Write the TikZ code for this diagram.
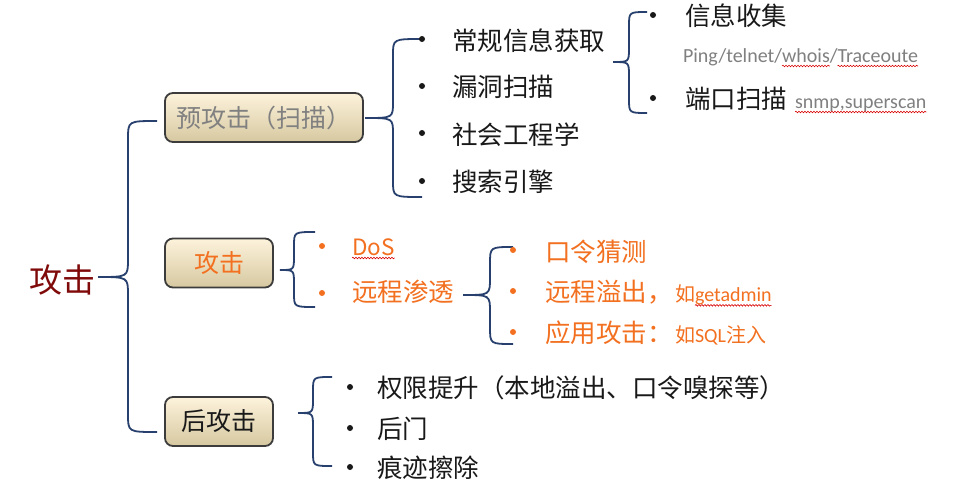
\documentclass[tikz,border=0pt]{standalone}
\usepackage{fontspec}
\setmainfont{Carlito}
\newfontfamily\cjk{Noto Sans CJK SC}
\usetikzlibrary{calc,decorations.pathmorphing}

\definecolor{bracecol}{RGB}{40,64,110}
\definecolor{rootred}{RGB}{128,10,10}
\definecolor{orangec}{RGB}{242,112,32}
\definecolor{grayc}{RGB}{128,128,128}
\definecolor{inkblack}{RGB}{25,25,25}
\definecolor{boxline}{RGB}{60,60,60}
\definecolor{boxtop}{RGB}{253,243,220}
\definecolor{boxmid}{RGB}{244,233,206}
\definecolor{boxbot}{RGB}{214,200,160}

\newcommand\setfs[1]{\fontsize{#1}{#1}\selectfont}

% curly brace: #1 tip, #2 upper end, #3 lower end, #4 spine x, #5 bend depth
\newcommand\bracelink[5]{%
  \draw[brace] (#2) .. controls (#2 -| #4) .. ($(#2 -| #4)+(0,#5)$)
    -- ($(#1 -| #4)-(0,#5)$) .. controls (#1 -| #4) .. (#1)
    .. controls (#1 -| #4) .. ($(#1 -| #4)+(0,#5)$)
    -- ($(#3 -| #4)-(0,#5)$) .. controls (#3 -| #4) .. (#3);}

\begin{document}
\begin{tikzpicture}[x=1pt,y=-1pt,
  txt/.style={inner sep=0pt,outer sep=0pt},
  item/.style={txt,anchor=west,font=\cjk\setfs{25.5},text=inkblack},
  oitem/.style={item,text=orangec},
  small/.style={txt,anchor=base west,font=\setfs{20},text=grayc},
  osmall/.style={small,text=orangec},
  topic/.style={draw=boxline,line width=1.8pt,rounded corners=8pt,
    top color=boxtop,middle color=boxmid,bottom color=boxbot,
    minimum height=49pt,inner sep=0pt,font=\cjk\setfs{25}},
  brace/.style={draw=bracecol,line width=1.8pt},
  squig/.style={draw=red!85!black,line width=0.6pt,decorate,
    decoration={snake,amplitude=0.8pt,segment length=3pt}},
  dotb/.style={fill=inkblack},
  doto/.style={fill=orangec}]
\useasboundingbox[fill=white] (0,0) rectangle (977,490);

% root
\node[txt,anchor=west,font=\cjk\setfs{33},text=rootred] (root) at (29,280) {攻击};

% three phases
\node[topic,minimum width=198pt,text=grayc] (pre) at (264,117.5) {预攻击（扫描）};
\node[topic,minimum width=108pt,text=orangec] (atk) at (219,263) {攻击};
\node[topic,minimum width=108pt,text=inkblack] (post) at (219,421.5) {后攻击};

% main brace
\coordinate (m-tip) at (98,277);
\coordinate (m-top) at (157,121);
\coordinate (m-bot) at (157,432);
\coordinate (m-x) at (128,0);
\bracelink{m-tip}{m-top}{m-bot}{m-x}{18}

% ---------- pre-attack ----------
\coordinate (p-tip) at (365,118);
\coordinate (p-top) at (422,39);
\coordinate (p-bot) at (422,197);
\coordinate (p-x) at (393,0);
\bracelink{p-tip}{p-top}{p-bot}{p-x}{16}

\fill[dotb] (422,39) circle (3pt);
\fill[dotb] (422,86) circle (3pt);
\fill[dotb] (422,133) circle (3pt);
\fill[dotb] (422,181) circle (3pt);
\node[item] (p1) at (452,41) {常规信息获取};
\node[item] (p2) at (452,86.5) {漏洞扫描};
\node[item] (p3) at (452,135) {社会工程学};
\node[item] (p4) at (452,182) {搜索引擎};

\coordinate (g-tip) at (613,62);
\coordinate (g-top) at (647,12);
\coordinate (g-bot) at (647,113);
\coordinate (g-x) at (629,0);
\bracelink{g-tip}{g-top}{g-bot}{g-x}{14}

\fill[dotb] (653,15) circle (3pt);
\fill[dotb] (653,98) circle (3pt);
\node[item] (g1) at (685,16) {信息收集};
\node[small] (ping1) at (683,62) {Ping/telnet/};
\node[small] (ping2) at (ping1.base east) {whois};
\node[small] (ping3) at (ping2.base east) {/};
\node[small] (ping4) at (ping3.base east) {Traceoute};
\node[item] (g2) at (685,99) {端口扫描};
\node[small] (scan) at (795,108) {snmp,superscan};
\draw[squig] ([yshift=-4pt]ping2.base west) -- ([yshift=-4pt]ping2.base east);
\draw[squig] ([yshift=-4pt]ping4.base west) -- ([yshift=-4pt]ping4.base east);
\draw[squig] ([yshift=-4pt]scan.base west) -- ([yshift=-4pt]scan.base east);

% ---------- attack ----------
\coordinate (a-tip) at (280,270);
\coordinate (a-top) at (315,232);
\coordinate (a-bot) at (315,307);
\coordinate (a-x) at (294,0);
\bracelink{a-tip}{a-top}{a-bot}{a-x}{14}

\fill[doto] (322,246) circle (3pt);
\fill[doto] (322,293) circle (3pt);
\node[txt,anchor=base west,font=\cjk\setfs{22.5},text=orangec] (dos) at (352,255) {DoS};
\draw[squig] ([yshift=-3pt]dos.base west) -- ([yshift=-3pt]dos.base east);
\node[oitem] (rp) at (352,291.5) {远程渗透};

\coordinate (r-tip) at (463,295);
\coordinate (r-top) at (513,247);
\coordinate (r-bot) at (513,344);
\coordinate (r-x) at (490,0);
\bracelink{r-tip}{r-top}{r-bot}{r-x}{17}

\fill[doto] (513,250) circle (3pt);
\fill[doto] (513,291) circle (3pt);
\fill[doto] (513,332) circle (3pt);
\node[oitem] (r1) at (545,252) {口令猜测};
\node[oitem] (r2) at (545,292) {远程溢出，};
\node[oitem] (r3) at (545,333) {应用攻击：};
\coordinate (sx) at (675,0);
\node[osmall] (r2a) at (r2.base -| sx) {{\cjk 如}};
\node[osmall] (r2b) at (r2a.base east) {getadmin};
\draw[squig] ([yshift=-4pt]r2b.base west) -- ([yshift=-4pt]r2b.base east);
\node[osmall] (r3a) at (r3.base -| sx) {{\cjk 如}SQL{\cjk 注入}};

% ---------- post-attack ----------
\coordinate (q-tip) at (298,413);
\coordinate (q-top) at (332,377);
\coordinate (q-bot) at (332,466);
\coordinate (q-x) at (313,0);
\bracelink{q-tip}{q-top}{q-bot}{q-x}{14}

\fill[dotb] (350,387) circle (3pt);
\fill[dotb] (350,428) circle (3pt);
\fill[dotb] (350,467) circle (3pt);
\node[item] (q1) at (377,387.5) {权限提升（本地溢出、口令嗅探等）};
\node[item] (q2) at (377,429) {后门};
\node[item] (q3) at (377,467.5) {痕迹擦除};
\end{tikzpicture}
\end{document}
